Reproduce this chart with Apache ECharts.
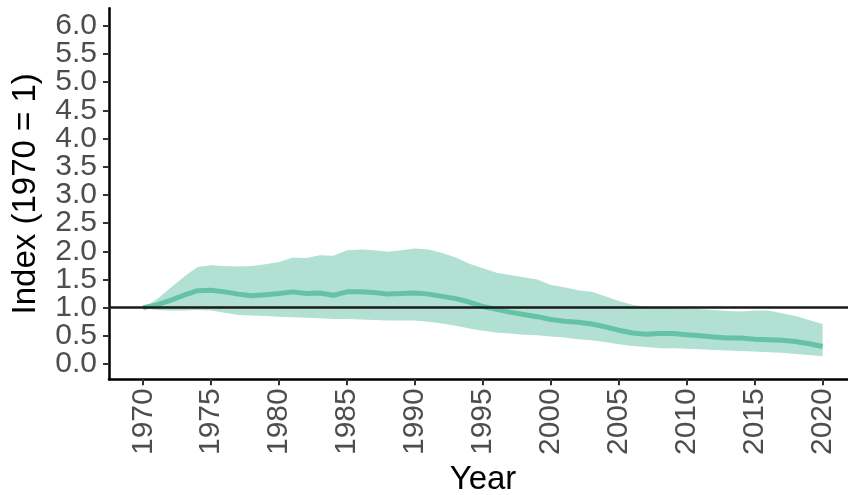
<!DOCTYPE html>
<html>
<head>
<meta charset="utf-8">
<script src="https://cdn.jsdelivr.net/npm/echarts@6/dist/echarts.min.js"></script>
<style>
  html, body { margin: 0; padding: 0; background: #ffffff; }
  #chart { width: 848px; height: 495px; }
</style>
</head>
<body>
<div id="chart"></div>
<script>
// Years 1970–2020
const years = [
  1970, 1971, 1972, 1973, 1974, 1975, 1976, 1977, 1978, 1979,
  1980, 1981, 1982, 1983, 1984, 1985, 1986, 1987, 1988, 1989,
  1990, 1991, 1992, 1993, 1994, 1995, 1996, 1997, 1998, 1999,
  2000, 2001, 2002, 2003, 2004, 2005, 2006, 2007, 2008, 2009,
  2010, 2011, 2012, 2013, 2014, 2015, 2016, 2017, 2018, 2019, 2020
];

// Index value (1970 = 1)
const indexValues = [
  1.00, 1.05, 1.13, 1.22, 1.30, 1.31, 1.28, 1.24, 1.21, 1.23,
  1.25, 1.28, 1.25, 1.26, 1.22, 1.28, 1.28, 1.27, 1.24, 1.25,
  1.26, 1.24, 1.20, 1.16, 1.10, 1.02, 0.97, 0.92, 0.88, 0.84,
  0.79, 0.76, 0.74, 0.71, 0.66, 0.60, 0.55, 0.53, 0.54, 0.54,
  0.52, 0.50, 0.48, 0.46, 0.46, 0.44, 0.43, 0.42, 0.40, 0.36, 0.31
];

// Upper bound of the confidence interval
const upperValues = [
  1.00, 1.15, 1.35, 1.55, 1.72, 1.75, 1.74, 1.73, 1.74, 1.77,
  1.81, 1.89, 1.88, 1.93, 1.92, 2.02, 2.03, 2.02, 1.99, 2.02,
  2.05, 2.03, 1.97, 1.89, 1.78, 1.70, 1.62, 1.58, 1.54, 1.50,
  1.40, 1.36, 1.31, 1.28, 1.20, 1.12, 1.05, 1.01, 1.00, 0.99,
  0.99, 0.97, 0.96, 0.94, 0.93, 0.95, 0.95, 0.90, 0.85, 0.78, 0.71
];

// Lower bound of the confidence interval
const lowerValues = [
  0.99, 0.96, 0.95, 0.95, 0.96, 0.95, 0.91, 0.87, 0.86, 0.85,
  0.84, 0.83, 0.82, 0.81, 0.80, 0.80, 0.79, 0.78, 0.77, 0.77,
  0.77, 0.75, 0.72, 0.68, 0.63, 0.59, 0.56, 0.54, 0.52, 0.51,
  0.49, 0.47, 0.44, 0.42, 0.39, 0.35, 0.32, 0.30, 0.28, 0.28,
  0.27, 0.26, 0.25, 0.24, 0.23, 0.22, 0.21, 0.20, 0.18, 0.16, 0.14
];

// Axis tick positions (y ticks split into whole and half steps, one axis each,
// so the large labels never collide inside a single axis)
const xTicks = [1970, 1975, 1980, 1985, 1990, 1995, 2000, 2005, 2010, 2015, 2020];
const yTicksWhole = [0, 1, 2, 3, 4, 5, 6];
const yTicksHalf = [0.5, 1.5, 2.5, 3.5, 4.5, 5.5];
const baseline = 1;

const FONT = "'Liberation Sans', Arial, sans-serif";
const Y_MIN = -0.271;
const Y_MAX = 6.31;
const lineData = years.map((y, i) => [y, indexValues[i]]);
const bandData = years.map((y, i) => [y, lowerValues[i], upperValues[i]]);

const yLabelStyle = {
  margin: 12,
  fontFamily: FONT,
  fontSize: 30,
  color: '#4d4d4d',
  showMinLabel: true,
  showMaxLabel: true,
  hideOverlap: false,
  formatter: v => v.toFixed(1)
};
const yTickStyle = { show: true, length: 6, lineStyle: { color: '#333333', width: 2 } };

const chart = echarts.init(document.getElementById('chart'), null, { renderer: 'canvas' });

chart.setOption({
  animation: false,
  backgroundColor: '#ffffff',
  grid: {
    left: 109, right: 0, top: 8.3, bottom: 115.7,
    containLabel: false,
    outerBoundsMode: 'none'
  },
  xAxis: {
    type: 'value',
    min: 1967.48,
    max: 2021.87,
    name: 'Year',
    nameLocation: 'middle',
    nameGap: 80,
    nameTextStyle: { fontFamily: FONT, fontSize: 33, color: '#000000', padding: [0, 0, 0, 9] },
    axisLine: { show: true, onZero: false, lineStyle: { color: '#000000', width: 2.5 } },
    axisTick: { show: true, length: 6, customValues: xTicks, lineStyle: { color: '#333333', width: 2 } },
    axisLabel: {
      customValues: xTicks,
      rotate: 90,
      margin: 9,
      fontFamily: FONT,
      fontSize: 30,
      color: '#4d4d4d',
      showMinLabel: true,
      showMaxLabel: true,
      hideOverlap: false,
      formatter: v => String(v)
    },
    splitLine: { show: false }
  },
  yAxis: [
    {
      type: 'value',
      position: 'left',
      min: Y_MIN,
      max: Y_MAX,
      name: 'Index (1970 = 1)',
      nameLocation: 'middle',
      nameGap: 67,
      nameRotate: 90,
      nameTextStyle: { fontFamily: FONT, fontSize: 33, color: '#000000' },
      axisLine: { show: true, onZero: false, lineStyle: { color: '#000000', width: 2.5 } },
      axisTick: Object.assign({ customValues: yTicksWhole }, yTickStyle),
      axisLabel: Object.assign({ customValues: yTicksWhole }, yLabelStyle),
      splitLine: { show: false }
    },
    {
      type: 'value',
      position: 'left',
      offset: 0,
      min: Y_MIN,
      max: Y_MAX,
      axisLine: { show: false, onZero: false },
      axisTick: Object.assign({ customValues: yTicksHalf }, yTickStyle),
      axisLabel: Object.assign({ customValues: yTicksHalf }, yLabelStyle),
      splitLine: { show: false }
    }
  ],
  series: [
    {
      // Confidence band drawn as one polygon through lower and upper bounds
      type: 'custom',
      data: bandData,
      yAxisIndex: 0,
      clip: true,
      z: 1,
      renderItem: function (params, api) {
        if (params.dataIndex !== 0) return null;
        const upper = bandData.map(d => api.coord([d[0], d[2]]));
        const lower = bandData.slice().reverse().map(d => api.coord([d[0], d[1]]));
        return {
          type: 'polygon',
          shape: { points: upper.concat(lower) },
          style: { fill: '#b2e0d2', stroke: null }
        };
      },
      encode: { x: 0, y: [1, 2] }
    },
    {
      type: 'line',
      data: lineData,
      yAxisIndex: 0,
      showSymbol: false,
      symbol: 'none',
      z: 2,
      lineStyle: { color: '#66c2a5', width: 5, join: 'round' },
      markLine: {
        silent: true,
        symbol: 'none',
        label: { show: false },
        lineStyle: { color: '#1a1a1a', width: 2.5, type: 'solid' },
        data: [{ yAxis: baseline }],
        z: 5
      }
    }
  ]
});
</script>
</body>
</html>
